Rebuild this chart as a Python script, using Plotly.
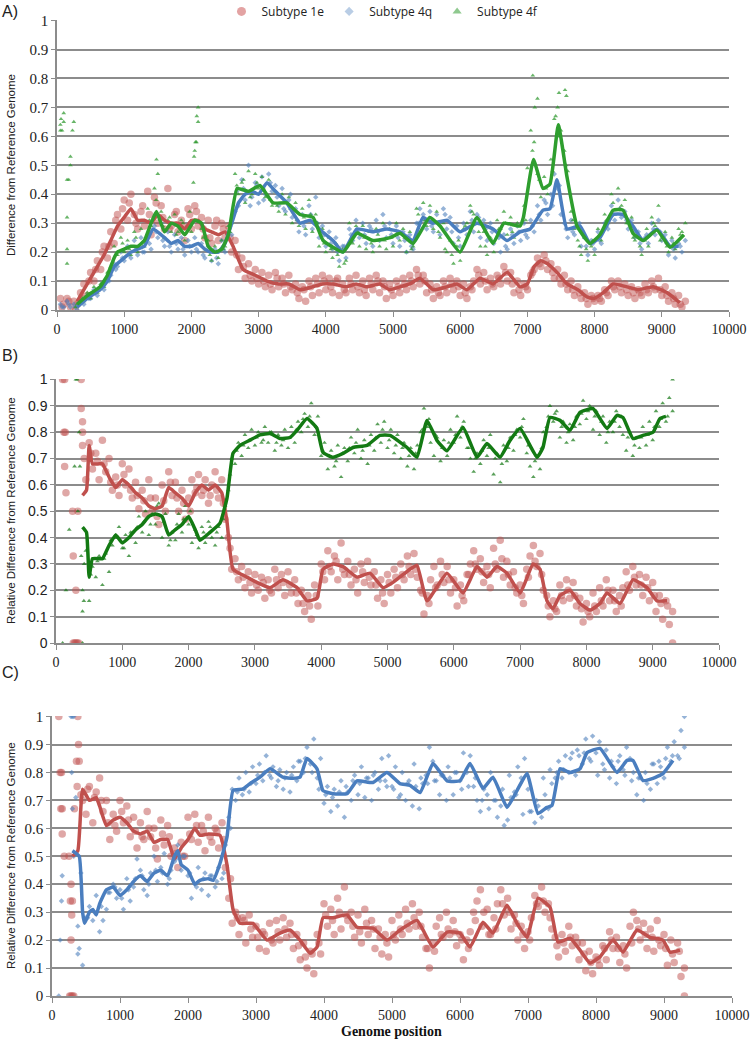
import plotly.graph_objects as go

# ---------------- DATA ----------------
# Panel A scatter positions (genome position)
posA = list(range(50, 9351, 50))
posA2 = list(range(75, 9276, 100))
# Panel B/C scatter positions
posBC = list(range(400, 9301, 50))
posBC2 = list(range(425, 9226, 100))

A_red_pts = [
    0.04, 0.02, 0.04, 0.01, 0.03, 0.02, 0.06, 0.09, 0.05, 0.13,
    0.10, 0.17, 0.14, 0.22, 0.18, 0.27, 0.23, 0.33, 0.28, 0.38,
    0.31, 0.40, 0.33, 0.28, 0.34, 0.29, 0.41, 0.26, 0.39, 0.30,
    0.36, 0.28, 0.42, 0.29, 0.33, 0.27, 0.31, 0.24, 0.35, 0.28,
    0.36, 0.29, 0.32, 0.25, 0.31, 0.23, 0.29, 0.24, 0.30, 0.25,
    0.29, 0.20, 0.24, 0.14, 0.18, 0.11, 0.16, 0.10, 0.14, 0.09,
    0.13, 0.08, 0.12, 0.07, 0.13, 0.08, 0.11, 0.06, 0.12, 0.07,
    0.09, 0.04, 0.08, 0.03, 0.10, 0.05, 0.11, 0.06, 0.12, 0.07,
    0.11, 0.06, 0.10, 0.05, 0.09, 0.06, 0.11, 0.07, 0.12, 0.06,
    0.10, 0.05, 0.11, 0.07, 0.12, 0.06, 0.10, 0.04, 0.09, 0.05,
    0.10, 0.06, 0.11, 0.07, 0.12, 0.08, 0.14, 0.09, 0.12, 0.06,
    0.09, 0.04, 0.08, 0.05, 0.10, 0.06, 0.11, 0.07, 0.10, 0.05,
    0.09, 0.04, 0.08, 0.10, 0.14, 0.09, 0.13, 0.07, 0.11, 0.08,
    0.12, 0.09, 0.15, 0.10, 0.13, 0.06, 0.10, 0.05, 0.09, 0.07,
    0.12, 0.14, 0.18, 0.15, 0.19, 0.14, 0.16, 0.11, 0.14, 0.09,
    0.12, 0.07, 0.10, 0.05, 0.08, 0.04, 0.06, 0.02, 0.05, 0.03,
    0.05, 0.03, 0.07, 0.05, 0.10, 0.07, 0.10, 0.06, 0.09, 0.05,
    0.08, 0.04, 0.07, 0.05, 0.09, 0.06, 0.10, 0.07, 0.11, 0.05,
    0.08, 0.03, 0.06, 0.02, 0.05, 0.01, 0.03,
]
A_red_pts2 = [
    0.01, 0.03, 0.00, 0.04, 0.10, 0.14, 0.20, 0.22, 0.31, 0.35,
    0.37, 0.30, 0.36, 0.33, 0.37, 0.32, 0.28, 0.34, 0.29, 0.33,
    0.34, 0.28, 0.25, 0.31, 0.28, 0.25, 0.19, 0.15, 0.12, 0.11,
    0.10, 0.09, 0.11, 0.09, 0.08, 0.06, 0.07, 0.08, 0.09, 0.10,
    0.08, 0.11, 0.07, 0.09, 0.08, 0.07, 0.09, 0.10, 0.08, 0.07,
    0.08, 0.09, 0.10, 0.12, 0.10, 0.07, 0.06, 0.08, 0.09, 0.08,
    0.06, 0.07, 0.12, 0.10, 0.09, 0.11, 0.13, 0.09, 0.07, 0.08,
    0.13, 0.16, 0.17, 0.13, 0.11, 0.09, 0.07, 0.06, 0.04, 0.04,
    0.04, 0.06, 0.08, 0.08, 0.07, 0.06, 0.06, 0.07, 0.08, 0.07,
    0.05, 0.04, 0.02,
]
A_blue_pts = [
    0.02, 0.01, 0.03, 0.01, 0.02, 0.00, 0.03, 0.02, 0.05, 0.04,
    0.07, 0.05, 0.08, 0.07, 0.11, 0.12, 0.16, 0.15, 0.20, 0.17,
    0.22, 0.18, 0.24, 0.19, 0.25, 0.20, 0.26, 0.21, 0.29, 0.25,
    0.30, 0.22, 0.27, 0.20, 0.26, 0.21, 0.25, 0.19, 0.24, 0.20,
    0.25, 0.20, 0.23, 0.18, 0.22, 0.17, 0.21, 0.16, 0.24, 0.20,
    0.27, 0.26, 0.34, 0.36, 0.45, 0.38, 0.50, 0.39, 0.44, 0.37,
    0.46, 0.40, 0.47, 0.41, 0.43, 0.36, 0.42, 0.34, 0.38, 0.32,
    0.35, 0.27, 0.33, 0.26, 0.36, 0.28, 0.39, 0.25, 0.29, 0.22,
    0.27, 0.21, 0.25, 0.17, 0.22, 0.18, 0.28, 0.24, 0.31, 0.25,
    0.30, 0.23, 0.29, 0.22, 0.31, 0.24, 0.33, 0.25, 0.30, 0.23,
    0.29, 0.22, 0.27, 0.20, 0.26, 0.21, 0.30, 0.35, 0.33, 0.28,
    0.34, 0.27, 0.33, 0.26, 0.35, 0.28, 0.32, 0.23, 0.29, 0.22,
    0.30, 0.26, 0.34, 0.27, 0.33, 0.25, 0.31, 0.24, 0.30, 0.23,
    0.27, 0.20, 0.26, 0.21, 0.28, 0.23, 0.29, 0.24, 0.30, 0.25,
    0.31, 0.27, 0.36, 0.31, 0.38, 0.33, 0.40, 0.47, 0.42, 0.33,
    0.30, 0.25, 0.31, 0.26, 0.29, 0.22, 0.25, 0.19, 0.24, 0.21,
    0.27, 0.23, 0.30, 0.28, 0.36, 0.31, 0.38, 0.32, 0.34, 0.28,
    0.31, 0.25, 0.27, 0.21, 0.25, 0.23, 0.30, 0.26, 0.31, 0.24,
    0.26, 0.19, 0.24, 0.18, 0.23, 0.20, 0.24,
]
A_blue_pts2 = [
    0.01, 0.02, 0.01, 0.03, 0.04, 0.06, 0.09, 0.10, 0.14, 0.18,
    0.19, 0.21, 0.20, 0.23, 0.27, 0.24, 0.22, 0.23, 0.21, 0.22,
    0.21, 0.19, 0.20, 0.18, 0.21, 0.29, 0.41, 0.42, 0.36, 0.43,
    0.38, 0.44, 0.39, 0.35, 0.40, 0.31, 0.29, 0.33, 0.30, 0.26,
    0.23, 0.20, 0.22, 0.26, 0.27, 0.26, 0.28, 0.27, 0.29, 0.26,
    0.25, 0.24, 0.22, 0.30, 0.31, 0.29, 0.30, 0.33, 0.27, 0.25,
    0.28, 0.31, 0.32, 0.28, 0.27, 0.25, 0.22, 0.26, 0.27, 0.26,
    0.29, 0.33, 0.37, 0.36, 0.43, 0.28, 0.27, 0.30, 0.22, 0.23,
    0.24, 0.29, 0.33, 0.35, 0.31, 0.27, 0.23, 0.26, 0.28, 0.27,
    0.23, 0.21, 0.22,
]
A_green_pts = [
    0.64, 0.68, 0.21, 0.50, 0.65, 0.02, 0.05, 0.03, 0.06, 0.04,
    0.08, 0.06, 0.09, 0.08, 0.13, 0.15, 0.22, 0.19, 0.25, 0.20,
    0.24, 0.19, 0.27, 0.20, 0.28, 0.22, 0.35, 0.29, 0.42, 0.47,
    0.34, 0.25, 0.31, 0.27, 0.33, 0.27, 0.31, 0.24, 0.29, 0.27,
    0.55, 0.65, 0.28, 0.21, 0.24, 0.17, 0.22, 0.18, 0.24, 0.22,
    0.29, 0.30, 0.47, 0.40, 0.44, 0.37, 0.48, 0.40, 0.47, 0.42,
    0.46, 0.39, 0.45, 0.36, 0.41, 0.34, 0.40, 0.33, 0.39, 0.30,
    0.37, 0.29, 0.35, 0.28, 0.38, 0.27, 0.33, 0.22, 0.28, 0.20,
    0.25, 0.18, 0.23, 0.15, 0.21, 0.17, 0.30, 0.23, 0.29, 0.22,
    0.29, 0.21, 0.27, 0.20, 0.28, 0.22, 0.30, 0.21, 0.28, 0.22,
    0.30, 0.24, 0.28, 0.20, 0.27, 0.22, 0.35, 0.30, 0.37, 0.29,
    0.36, 0.28, 0.34, 0.25, 0.30, 0.20, 0.24, 0.16, 0.22, 0.17,
    0.28, 0.30, 0.36, 0.33, 0.30, 0.22, 0.27, 0.19, 0.25, 0.20,
    0.31, 0.28, 0.34, 0.26, 0.32, 0.25, 0.30, 0.27, 0.36, 0.49,
    0.62, 0.58, 0.47, 0.39, 0.46, 0.40, 0.52, 0.66, 0.70, 0.62,
    0.55, 0.48, 0.34, 0.28, 0.24, 0.19, 0.25, 0.17, 0.22, 0.19,
    0.28, 0.24, 0.33, 0.30, 0.40, 0.33, 0.42, 0.36, 0.38, 0.30,
    0.32, 0.24, 0.26, 0.19, 0.24, 0.22, 0.32, 0.29, 0.36, 0.25,
    0.27, 0.20, 0.25, 0.21, 0.28, 0.27, 0.30,
]
A_green_pts2 = [
    0.62, 0.45, 0.01, 0.04, 0.05, 0.07, 0.09, 0.12, 0.19, 0.23,
    0.21, 0.25, 0.22, 0.31, 0.38, 0.29, 0.32, 0.26, 0.30, 0.34,
    0.58, 0.25, 0.19, 0.20, 0.21, 0.27, 0.43, 0.45, 0.39, 0.44,
    0.42, 0.38, 0.36, 0.37, 0.35, 0.31, 0.32, 0.33, 0.30, 0.23,
    0.21, 0.19, 0.16, 0.24, 0.27, 0.25, 0.23, 0.26, 0.24, 0.25,
    0.27, 0.25, 0.21, 0.33, 0.31, 0.31, 0.27, 0.21, 0.19, 0.24,
    0.29, 0.34, 0.27, 0.22, 0.24, 0.28, 0.30, 0.27, 0.29, 0.31,
    0.55, 0.45, 0.42, 0.48, 0.60, 0.50, 0.31, 0.22, 0.21, 0.24,
    0.26, 0.31, 0.37, 0.35, 0.30, 0.25, 0.22, 0.28, 0.30, 0.24,
    0.22, 0.23, 0.26,
]
A_green_extra_x = [50, 60, 100, 150, 150, 150, 200, 230, 2030, 2040, 2060, 2080, 2100, 1480, 7080, 7110, 7150, 7420, 7470, 7560, 7580]
A_green_extra_y = [0.62, 0.66, 0.65, 0.45, 0.32, 0.16, 0.53, 0.62, 0.44, 0.53, 0.58, 0.67, 0.70, 0.52, 0.81, 0.70, 0.73, 0.67, 0.75, 0.76, 0.74]

# Panel A smoothed lines
A_red_x = [300, 400, 500, 600, 700, 800, 900, 1000, 1100, 1200, 1300, 1400, 1500, 1600, 1700, 1800, 1900, 2000, 2100, 2200, 2300, 2400, 2500, 2620, 2770, 2950, 3125, 3300, 3450, 3616, 3800, 3950, 4107, 4300, 4450, 4613, 4800, 4950, 5104, 5250, 5400, 5600, 5800, 5950, 6100, 6295, 6490, 6700, 6890, 7000, 7100, 7200, 7300, 7440, 7589, 7750, 7887, 7990, 8130, 8275, 8482, 8650, 8870, 9077, 9270]
A_red_y = [0.03, 0.07, 0.11, 0.15, 0.19, 0.24, 0.29, 0.32, 0.35, 0.31, 0.31, 0.30, 0.33, 0.31, 0.30, 0.30, 0.28, 0.31, 0.31, 0.28, 0.27, 0.26, 0.27, 0.22, 0.14, 0.12, 0.10, 0.09, 0.09, 0.07, 0.08, 0.09, 0.09, 0.08, 0.09, 0.08, 0.09, 0.07, 0.08, 0.09, 0.11, 0.07, 0.08, 0.09, 0.07, 0.11, 0.09, 0.13, 0.08, 0.09, 0.15, 0.17, 0.16, 0.13, 0.09, 0.07, 0.045, 0.04, 0.06, 0.09, 0.08, 0.07, 0.08, 0.06, 0.025]
A_blue_x = [300, 450, 640, 750, 850, 1000, 1100, 1200, 1300, 1430, 1600, 1700, 1800, 1900, 2000, 2100, 2200, 2300, 2400, 2500, 2600, 2700, 2800, 2900, 3000, 3125, 3250, 3420, 3616, 3765, 3950, 4107, 4256, 4464, 4702, 4910, 5104, 5297, 5446, 5595, 5804, 5997, 6250, 6488, 6696, 6890, 7040, 7232, 7336, 7440, 7589, 7783, 7932, 8080, 8275, 8423, 8571, 8720, 8928, 9122, 9250]
A_blue_y = [0.01, 0.04, 0.07, 0.10, 0.15, 0.18, 0.20, 0.21, 0.22, 0.28, 0.25, 0.23, 0.24, 0.22, 0.22, 0.23, 0.21, 0.20, 0.20, 0.23, 0.30, 0.37, 0.40, 0.41, 0.40, 0.44, 0.41, 0.37, 0.30, 0.31, 0.27, 0.24, 0.20, 0.28, 0.27, 0.28, 0.27, 0.24, 0.32, 0.30, 0.31, 0.27, 0.30, 0.28, 0.24, 0.27, 0.28, 0.345, 0.35, 0.45, 0.28, 0.29, 0.23, 0.25, 0.33, 0.33, 0.29, 0.24, 0.28, 0.22, 0.22]
A_green_x = [300, 450, 640, 750, 850, 900, 1000, 1100, 1200, 1300, 1400, 1480, 1600, 1700, 1800, 1900, 2050, 2150, 2250, 2350, 2450, 2550, 2680, 2850, 3020, 3215, 3420, 3616, 3810, 3960, 4256, 4464, 4702, 4960, 5104, 5297, 5545, 5700, 5997, 6250, 6488, 6650, 6890, 6940, 7090, 7232, 7336, 7460, 7589, 7738, 7932, 8080, 8275, 8423, 8571, 8720, 8928, 9122, 9330]
A_green_y = [0.02, 0.05, 0.08, 0.12, 0.18, 0.20, 0.21, 0.22, 0.22, 0.24, 0.30, 0.34, 0.27, 0.30, 0.29, 0.26, 0.31, 0.30, 0.22, 0.20, 0.21, 0.26, 0.42, 0.41, 0.43, 0.37, 0.37, 0.33, 0.32, 0.24, 0.20, 0.265, 0.24, 0.25, 0.265, 0.23, 0.32, 0.29, 0.20, 0.32, 0.23, 0.30, 0.29, 0.32, 0.52, 0.42, 0.435, 0.64, 0.46, 0.29, 0.23, 0.26, 0.345, 0.345, 0.265, 0.24, 0.276, 0.217, 0.26]

# Panel B scatter
B_red_pts = [
    0.80, 0.62, 0.76, 0.66, 0.72, 0.62, 0.77, 0.65, 0.70, 0.58,
    0.63, 0.56, 0.68, 0.60, 0.66, 0.55, 0.61, 0.51, 0.58, 0.49,
    0.62, 0.50, 0.55, 0.45, 0.60, 0.50, 0.65, 0.56, 0.61, 0.50,
    0.58, 0.47, 0.55, 0.62, 0.57, 0.64, 0.56, 0.62, 0.53, 0.60,
    0.65, 0.55, 0.62, 0.47, 0.40, 0.28, 0.32, 0.24, 0.29, 0.21,
    0.27, 0.19, 0.26, 0.20, 0.25, 0.17, 0.24, 0.19, 0.28, 0.21,
    0.26, 0.18, 0.27, 0.19, 0.24, 0.15, 0.20, 0.12, 0.18, 0.09,
    0.22, 0.14, 0.30, 0.24, 0.35, 0.27, 0.33, 0.24, 0.38, 0.26,
    0.31, 0.22, 0.28, 0.19, 0.30, 0.23, 0.31, 0.22, 0.27, 0.17,
    0.24, 0.15, 0.26, 0.19, 0.28, 0.21, 0.30, 0.24, 0.33, 0.26,
    0.34, 0.25, 0.20, 0.11, 0.18, 0.24, 0.29, 0.22, 0.31, 0.23,
    0.29, 0.19, 0.24, 0.14, 0.22, 0.16, 0.26, 0.30, 0.35, 0.28,
    0.32, 0.23, 0.29, 0.21, 0.36, 0.28, 0.39, 0.25, 0.31, 0.22,
    0.27, 0.19, 0.22, 0.15, 0.28, 0.33, 0.37, 0.29, 0.34, 0.20,
    0.18, 0.10, 0.16, 0.12, 0.22, 0.16, 0.24, 0.17, 0.23, 0.14,
    0.17, 0.08, 0.15, 0.10, 0.19, 0.12, 0.21, 0.14, 0.24, 0.16,
    0.20, 0.12, 0.18, 0.21, 0.27, 0.20, 0.29, 0.22, 0.26, 0.18,
    0.25, 0.16, 0.23, 0.12, 0.18, 0.09, 0.16, 0.07, 0.12,
]
B_red_pts2 = [
    0.70, 0.72, 0.69, 0.68, 0.61, 0.60, 0.64, 0.58, 0.56, 0.54,
    0.55, 0.48, 0.54, 0.61, 0.55, 0.53, 0.50, 0.59, 0.58, 0.56,
    0.58, 0.53, 0.36, 0.27, 0.25, 0.23, 0.22, 0.23, 0.20, 0.24,
    0.23, 0.22, 0.19, 0.15, 0.14, 0.18, 0.27, 0.29, 0.31, 0.28,
    0.26, 0.24, 0.27, 0.25, 0.22, 0.19, 0.23, 0.25, 0.26, 0.29,
    0.28, 0.19, 0.15, 0.21, 0.26, 0.24, 0.21, 0.18, 0.26, 0.30,
    0.27, 0.26, 0.30, 0.32, 0.26, 0.21, 0.18, 0.25, 0.31, 0.26,
    0.14, 0.13, 0.18, 0.20, 0.18, 0.13, 0.12, 0.14, 0.16, 0.20,
    0.16, 0.14, 0.22, 0.25, 0.22, 0.21, 0.18, 0.15, 0.14,
]
B_green_pts = [
    0.20, 0.35, 0.16, 0.29, 0.25, 0.33, 0.22, 0.34, 0.27, 0.37,
    0.41, 0.44, 0.36, 0.41, 0.33, 0.42, 0.38, 0.48, 0.42, 0.50,
    0.41, 0.49, 0.45, 0.53, 0.40, 0.49, 0.37, 0.42, 0.39, 0.49,
    0.42, 0.52, 0.45, 0.38, 0.43, 0.36, 0.44, 0.38, 0.46, 0.40,
    0.37, 0.44, 0.40, 0.52, 0.58, 0.70, 0.68, 0.76, 0.71, 0.79,
    0.74, 0.81, 0.75, 0.80, 0.76, 0.82, 0.76, 0.80, 0.73, 0.79,
    0.75, 0.81, 0.74, 0.82, 0.76, 0.84, 0.80, 0.87, 0.82, 0.91,
    0.79, 0.86, 0.71, 0.76, 0.66, 0.73, 0.67, 0.75, 0.63, 0.74,
    0.69, 0.78, 0.72, 0.81, 0.70, 0.77, 0.68, 0.79, 0.73, 0.83,
    0.76, 0.84, 0.74, 0.81, 0.72, 0.79, 0.70, 0.76, 0.67, 0.74,
    0.66, 0.75, 0.80, 0.89, 0.82, 0.76, 0.71, 0.78, 0.69, 0.77,
    0.71, 0.81, 0.76, 0.86, 0.78, 0.84, 0.74, 0.70, 0.65, 0.72,
    0.68, 0.77, 0.71, 0.79, 0.64, 0.72, 0.61, 0.75, 0.69, 0.78,
    0.73, 0.81, 0.78, 0.85, 0.72, 0.67, 0.63, 0.71, 0.66, 0.80,
    0.82, 0.90, 0.84, 0.88, 0.78, 0.84, 0.76, 0.83, 0.77, 0.86,
    0.83, 0.92, 0.85, 0.90, 0.81, 0.88, 0.79, 0.86, 0.76, 0.84,
    0.80, 0.88, 0.82, 0.79, 0.73, 0.80, 0.71, 0.78, 0.74, 0.82,
    0.75, 0.84, 0.77, 0.88, 0.82, 0.91, 0.84, 0.93, 0.88,
]
B_green_pts2 = [
    0.30, 0.26, 0.31, 0.32, 0.39, 0.40, 0.36, 0.42, 0.44, 0.46,
    0.45, 0.52, 0.46, 0.39, 0.45, 0.47, 0.50, 0.41, 0.42, 0.44,
    0.42, 0.47, 0.64, 0.73, 0.75, 0.77, 0.78, 0.77, 0.80, 0.76,
    0.77, 0.78, 0.81, 0.85, 0.86, 0.82, 0.73, 0.71, 0.69, 0.72,
    0.74, 0.76, 0.73, 0.75, 0.78, 0.81, 0.77, 0.75, 0.74, 0.71,
    0.72, 0.81, 0.85, 0.79, 0.74, 0.76, 0.79, 0.82, 0.74, 0.70,
    0.73, 0.74, 0.70, 0.68, 0.74, 0.79, 0.82, 0.75, 0.69, 0.74,
    0.86, 0.87, 0.82, 0.80, 0.82, 0.87, 0.88, 0.86, 0.84, 0.80,
    0.84, 0.86, 0.78, 0.75, 0.78, 0.79, 0.82, 0.85, 0.86,
]
B_red_extra_x = [100, 130, 120, 140, 130, 150, 250, 260, 300, 260, 280, 300, 320, 340, 330, 380, 380, 400, 400, 9300]
B_red_extra_y = [1.0, 1.0, 0.8, 0.8, 0.67, 0.57, 0.5, 0.33, 0.2, 0.0, 0.0, 0.0, 0.0, 0.0, 0.5, 1.0, 0.89, 0.84, 0.75, 0.0]
B_green_extra_x = [100, 150, 200, 280, 300, 320, 330, 360, 350, 380, 400, 420, 400, 9300]
B_green_extra_y = [0.0, 0.2, 0.43, 0.67, 1.0, 1.0, 0.5, 0.67, 0.8, 0.33, 0.12, 0.16, 0.0, 1.0]

B_red_x = [400, 460, 500, 550, 650, 700, 800, 900, 1000, 1100, 1200, 1300, 1400, 1500, 1600, 1700, 1800, 1900, 2000, 2100, 2200, 2300, 2400, 2500, 2579, 2670, 2880, 3030, 3228, 3424, 3635, 3786, 3937, 4027, 4178, 4329, 4540, 4736, 4932, 5083, 5339, 5445, 5596, 5897, 6139, 6350, 6500, 6651, 6802, 7000, 7195, 7300, 7405, 7496, 7602, 7753, 7903, 8054, 8205, 8310, 8507, 8703, 8914, 9065, 9216]
B_red_y = [0.56, 0.58, 0.75, 0.68, 0.68, 0.68, 0.63, 0.59, 0.62, 0.60, 0.57, 0.55, 0.52, 0.51, 0.52, 0.59, 0.57, 0.55, 0.52, 0.57, 0.60, 0.58, 0.60, 0.57, 0.46, 0.28, 0.25, 0.23, 0.21, 0.24, 0.21, 0.16, 0.17, 0.28, 0.30, 0.29, 0.25, 0.265, 0.21, 0.23, 0.28, 0.295, 0.16, 0.265, 0.19, 0.29, 0.25, 0.29, 0.265, 0.19, 0.30, 0.28, 0.16, 0.13, 0.18, 0.20, 0.15, 0.125, 0.15, 0.19, 0.15, 0.24, 0.21, 0.16, 0.16]
B_green_x = [400, 460, 500, 550, 650, 700, 800, 900, 1000, 1100, 1200, 1300, 1400, 1500, 1600, 1700, 1800, 1900, 2000, 2100, 2172, 2323, 2474, 2579, 2670, 2775, 2926, 3077, 3228, 3379, 3530, 3635, 3786, 3937, 4027, 4178, 4329, 4480, 4690, 4887, 5038, 5294, 5445, 5596, 5746, 5897, 6139, 6350, 6500, 6697, 6848, 7000, 7255, 7345, 7450, 7602, 7753, 7903, 8099, 8310, 8461, 8552, 8703, 8854, 9005, 9110, 9200]
B_green_y = [0.44, 0.42, 0.25, 0.32, 0.32, 0.32, 0.37, 0.41, 0.38, 0.40, 0.43, 0.45, 0.48, 0.49, 0.48, 0.41, 0.43, 0.45, 0.48, 0.43, 0.39, 0.42, 0.455, 0.55, 0.72, 0.75, 0.77, 0.79, 0.795, 0.776, 0.78, 0.807, 0.852, 0.814, 0.723, 0.705, 0.72, 0.742, 0.75, 0.788, 0.788, 0.742, 0.705, 0.845, 0.769, 0.73, 0.818, 0.705, 0.757, 0.705, 0.769, 0.814, 0.705, 0.742, 0.856, 0.845, 0.807, 0.875, 0.89, 0.814, 0.864, 0.856, 0.776, 0.788, 0.80, 0.852, 0.86]

# Panel C scatter
C_red_pts = [
    0.84, 0.70, 0.65, 0.75, 0.62, 0.73, 0.78, 0.66, 0.70, 0.56,
    0.65, 0.59, 0.70, 0.62, 0.68, 0.57, 0.64, 0.53, 0.62, 0.56,
    0.66, 0.57, 0.60, 0.49, 0.63, 0.54, 0.61, 0.50, 0.53, 0.46,
    0.55, 0.50, 0.64, 0.56, 0.65, 0.55, 0.61, 0.52, 0.64, 0.55,
    0.60, 0.53, 0.62, 0.46, 0.35, 0.26, 0.30, 0.22, 0.28, 0.19,
    0.29, 0.21, 0.25, 0.17, 0.23, 0.16, 0.26, 0.19, 0.27, 0.20,
    0.28, 0.21, 0.26, 0.17, 0.22, 0.13, 0.19, 0.10, 0.16, 0.08,
    0.22, 0.15, 0.33, 0.25, 0.31, 0.22, 0.35, 0.24, 0.39, 0.27,
    0.30, 0.21, 0.29, 0.19, 0.31, 0.22, 0.27, 0.17, 0.24, 0.15,
    0.22, 0.14, 0.27, 0.20, 0.29, 0.22, 0.31, 0.24, 0.33, 0.25,
    0.30, 0.21, 0.17, 0.10, 0.19, 0.25, 0.28, 0.21, 0.30, 0.22,
    0.27, 0.18, 0.22, 0.13, 0.20, 0.23, 0.30, 0.34, 0.38, 0.30,
    0.31, 0.22, 0.28, 0.33, 0.38, 0.29, 0.35, 0.24, 0.29, 0.20,
    0.25, 0.17, 0.23, 0.28, 0.36, 0.32, 0.39, 0.30, 0.33, 0.24,
    0.21, 0.14, 0.22, 0.16, 0.25, 0.18, 0.21, 0.13, 0.19, 0.09,
    0.16, 0.08, 0.14, 0.11, 0.18, 0.13, 0.23, 0.17, 0.21, 0.12,
    0.18, 0.10, 0.25, 0.30, 0.27, 0.20, 0.26, 0.17, 0.24, 0.16,
    0.27, 0.18, 0.22, 0.11, 0.20, 0.12, 0.19, 0.07, 0.10,
]
C_red_pts2 = [
    0.72, 0.74, 0.71, 0.70, 0.62, 0.61, 0.66, 0.63, 0.59, 0.57,
    0.60, 0.53, 0.58, 0.57, 0.51, 0.50, 0.58, 0.61, 0.59, 0.57,
    0.59, 0.56, 0.42, 0.28, 0.27, 0.24, 0.21, 0.22, 0.20, 0.23,
    0.24, 0.22, 0.18, 0.14, 0.15, 0.19, 0.29, 0.27, 0.30, 0.29,
    0.25, 0.23, 0.26, 0.24, 0.21, 0.19, 0.22, 0.24, 0.26, 0.28,
    0.25, 0.17, 0.16, 0.22, 0.24, 0.23, 0.20, 0.17, 0.27, 0.25,
    0.22, 0.24, 0.33, 0.30, 0.26, 0.22, 0.20, 0.33, 0.34, 0.28,
    0.18, 0.19, 0.21, 0.19, 0.15, 0.12, 0.13, 0.17, 0.20, 0.17,
    0.15, 0.19, 0.24, 0.22, 0.21, 0.20, 0.17, 0.15, 0.16,
]
C_blue_pts = [
    0.17, 0.11, 0.28, 0.32, 0.27, 0.36, 0.23, 0.27, 0.31, 0.37,
    0.40, 0.35, 0.38, 0.31, 0.42, 0.34, 0.39, 0.49, 0.45, 0.38,
    0.36, 0.44, 0.50, 0.41, 0.46, 0.51, 0.40, 0.45, 0.48, 0.54,
    0.45, 0.50, 0.43, 0.35, 0.40, 0.46, 0.38, 0.44, 0.36, 0.43,
    0.39, 0.46, 0.42, 0.54, 0.64, 0.74, 0.70, 0.78, 0.72, 0.80,
    0.73, 0.82, 0.76, 0.83, 0.77, 0.86, 0.79, 0.82, 0.75, 0.81,
    0.74, 0.80, 0.73, 0.82, 0.77, 0.84, 0.80, 0.89, 0.83, 0.92,
    0.78, 0.85, 0.69, 0.75, 0.66, 0.74, 0.68, 0.77, 0.64, 0.73,
    0.70, 0.79, 0.72, 0.82, 0.71, 0.78, 0.70, 0.80, 0.74, 0.85,
    0.77, 0.86, 0.75, 0.82, 0.71, 0.80, 0.70, 0.77, 0.68, 0.75,
    0.67, 0.76, 0.79, 0.89, 0.84, 0.77, 0.72, 0.79, 0.70, 0.78,
    0.72, 0.80, 0.77, 0.87, 0.80, 0.86, 0.75, 0.70, 0.66, 0.74,
    0.72, 0.80, 0.70, 0.64, 0.68, 0.61, 0.63, 0.71, 0.73, 0.82,
    0.78, 0.85, 0.74, 0.66, 0.62, 0.68, 0.64, 0.72, 0.67, 0.76,
    0.78, 0.84, 0.78, 0.86, 0.80, 0.87, 0.79, 0.86, 0.83, 0.92,
    0.85, 0.93, 0.87, 0.91, 0.83, 0.88, 0.78, 0.82, 0.76, 0.86,
    0.81, 0.89, 0.85, 0.80, 0.72, 0.78, 0.70, 0.76, 0.74, 0.83,
    0.76, 0.82, 0.78, 0.89, 0.84, 0.91, 0.86, 0.95, 0.89,
]
C_blue_pts2 = [
    0.44, 0.28, 0.30, 0.32, 0.37, 0.39, 0.35, 0.38, 0.42, 0.43,
    0.40, 0.45, 0.44, 0.42, 0.49, 0.50, 0.44, 0.39, 0.42, 0.43,
    0.41, 0.44, 0.60, 0.73, 0.74, 0.76, 0.79, 0.80, 0.78, 0.77,
    0.78, 0.79, 0.84, 0.85, 0.80, 0.74, 0.72, 0.71, 0.73, 0.75,
    0.77, 0.76, 0.78, 0.79, 0.77, 0.75, 0.74, 0.72, 0.76, 0.83,
    0.78, 0.76, 0.77, 0.79, 0.82, 0.80, 0.74, 0.75, 0.78, 0.70,
    0.67, 0.70, 0.74, 0.79, 0.72, 0.65, 0.66, 0.70, 0.78, 0.81,
    0.80, 0.81, 0.85, 0.88, 0.87, 0.84, 0.79, 0.81, 0.84, 0.84,
    0.79, 0.77, 0.78, 0.80, 0.83, 0.84, 0.85, 0.86, 0.85,
]
C_red_extra_x = [100, 120, 140, 130, 150, 150, 180, 250, 280, 270, 300, 290, 280, 260, 280, 300, 320, 330, 360, 370, 380, 390, 9300]
C_red_extra_y = [1.0, 0.8, 0.8, 0.67, 0.67, 0.58, 0.5, 0.5, 0.4, 0.34, 0.34, 0.29, 0.2, 0.0, 0.0, 0.0, 0.0, 0.67, 0.84, 0.75, 1.0, 0.9, 0.0]
C_blue_extra_x = [100, 120, 140, 150, 280, 300, 320, 290, 300, 320, 350, 380, 380, 9300]
C_blue_extra_y = [0.0, 0.2, 0.34, 0.43, 1.0, 1.0, 1.0, 0.8, 0.67, 0.5, 0.71, 0.25, 0.15, 1.0]

C_red_x = [300, 380, 450, 550, 650, 700, 800, 900, 1000, 1100, 1200, 1300, 1400, 1500, 1600, 1700, 1800, 1900, 2000, 2100, 2176, 2300, 2470, 2573, 2662, 2765, 2956, 3162, 3353, 3500, 3647, 3794, 3897, 3985, 4132, 4338, 4485, 4720, 4926, 5118, 5368, 5603, 5809, 6000, 6147, 6338, 6485, 6691, 6838, 6985, 7147, 7324, 7441, 7618, 7765, 7912, 8059, 8250, 8397, 8603, 8794, 8985, 9088, 9235]
C_red_y = [0.50, 0.52, 0.74, 0.70, 0.71, 0.68, 0.61, 0.63, 0.64, 0.62, 0.59, 0.58, 0.59, 0.55, 0.56, 0.56, 0.49, 0.53, 0.56, 0.60, 0.575, 0.58, 0.575, 0.47, 0.31, 0.26, 0.26, 0.20, 0.225, 0.236, 0.20, 0.154, 0.175, 0.28, 0.28, 0.29, 0.246, 0.243, 0.20, 0.236, 0.27, 0.175, 0.229, 0.225, 0.175, 0.264, 0.225, 0.325, 0.26, 0.21, 0.35, 0.318, 0.193, 0.207, 0.164, 0.118, 0.14, 0.20, 0.157, 0.236, 0.21, 0.20, 0.157, 0.164]
C_blue_x = [300, 400, 450, 480, 550, 600, 650, 700, 800, 900, 1000, 1100, 1200, 1300, 1400, 1500, 1600, 1700, 1800, 1850, 1900, 2000, 2100, 2176, 2300, 2370, 2470, 2573, 2662, 2800, 2912, 3059, 3206, 3397, 3544, 3647, 3750, 3897, 3985, 4132, 4338, 4485, 4720, 4926, 5118, 5265, 5412, 5603, 5809, 6000, 6147, 6338, 6485, 6691, 6838, 6985, 7147, 7279, 7353, 7471, 7618, 7765, 7868, 8059, 8309, 8456, 8544, 8691, 8838, 8985, 9132]
C_blue_y = [0.52, 0.50, 0.30, 0.26, 0.30, 0.31, 0.29, 0.33, 0.38, 0.39, 0.36, 0.38, 0.41, 0.43, 0.41, 0.44, 0.45, 0.43, 0.50, 0.52, 0.47, 0.45, 0.40, 0.414, 0.42, 0.414, 0.474, 0.568, 0.735, 0.74, 0.76, 0.783, 0.813, 0.783, 0.779, 0.783, 0.85, 0.813, 0.735, 0.724, 0.724, 0.77, 0.764, 0.80, 0.76, 0.754, 0.728, 0.832, 0.77, 0.77, 0.832, 0.743, 0.783, 0.675, 0.735, 0.796, 0.653, 0.675, 0.682, 0.813, 0.80, 0.813, 0.871, 0.886, 0.80, 0.843, 0.843, 0.771, 0.779, 0.796, 0.843]

legend_names = ["Subtype 1e", "Subtype 4q", "Subtype 4f"]
x_ticks = [0, 1000, 2000, 3000, 4000, 5000, 6000, 7000, 8000, 9000, 10000]

# ---------------- STYLE ----------------
RED = "#C0504D"
RED_PT = "rgba(192,80,77,0.5)"
BLUE = "#4A7EBF"
BLUE_PT = "rgba(79,129,189,0.6)"
GREEN_A = "#2E9E2E"
GREEN_B = "#137A13"
GREEN_PT_A = "rgba(40,150,40,0.7)"
GREEN_PT_B = "rgba(20,120,20,0.7)"
GRID = "#8C8C8C"
SERIF = "Liberation Serif"
SANS = "Liberation Sans"

W, H = 750, 1041

def px_x(p):
    return p / W

def px_y(p):
    return 1 - p / H

fig = go.Figure()

def pts(x, y, ax, color, symbol, size):
    fig.add_trace(go.Scatter(x=x, y=y, mode="markers", xaxis="x" + ax, yaxis="y" + ax,
                             marker=dict(color=color, symbol=symbol, size=size, line=dict(width=0)),
                             showlegend=False, hoverinfo="skip"))

def line(x, y, ax, color, w=3.5):
    fig.add_trace(go.Scatter(x=x, y=y, mode="lines", xaxis="x" + ax, yaxis="y" + ax,
                             line=dict(color=color, width=w, shape="spline", smoothing=0.4),
                             showlegend=False, hoverinfo="skip"))

RS, SS = 7.5, 4.2

# Panel A
pts(posA, A_red_pts, "", RED_PT, "circle", RS)
pts(posA2, A_red_pts2, "", RED_PT, "circle", RS)
pts(posA, A_blue_pts, "", BLUE_PT, "diamond", SS)
pts(posA2, A_blue_pts2, "", BLUE_PT, "diamond", SS)
pts(posA, A_green_pts, "", GREEN_PT_A, "triangle-up", SS)
pts(posA2, A_green_pts2, "", GREEN_PT_A, "triangle-up", SS)
pts(A_green_extra_x, A_green_extra_y, "", GREEN_PT_A, "triangle-up", SS)
line(A_red_x, A_red_y, "", RED)
line(A_blue_x, A_blue_y, "", BLUE)
line(A_green_x, A_green_y, "", GREEN_A)

# Panel B
pts(posBC, B_red_pts, "2", RED_PT, "circle", RS)
pts(posBC2, B_red_pts2, "2", RED_PT, "circle", RS)
pts(B_red_extra_x, B_red_extra_y, "2", RED_PT, "circle", RS)
pts(posBC, B_green_pts, "2", GREEN_PT_B, "triangle-up", SS)
pts(posBC2, B_green_pts2, "2", GREEN_PT_B, "triangle-up", SS)
pts(B_green_extra_x, B_green_extra_y, "2", GREEN_PT_B, "triangle-up", SS)
line(B_red_x, B_red_y, "2", RED)
line(B_green_x, B_green_y, "2", GREEN_B)

# Panel C
pts(posBC, C_red_pts, "3", RED_PT, "circle", RS)
pts(posBC2, C_red_pts2, "3", RED_PT, "circle", RS)
pts(C_red_extra_x, C_red_extra_y, "3", RED_PT, "circle", RS)
pts(posBC, C_blue_pts, "3", BLUE_PT, "diamond", SS)
pts(posBC2, C_blue_pts2, "3", BLUE_PT, "diamond", SS)
pts(C_blue_extra_x, C_blue_extra_y, "3", BLUE_PT, "diamond", SS)
line(C_red_x, C_red_y, "3", RED)
line(C_blue_x, C_blue_y, "3", BLUE)

# Legend-only traces
leg_styles = [("#E3A3A3", "circle", 9), ("#B9CDE5", "diamond", 7), ("#8FC98F", "triangle-up", 8)]
for name, (c, s, sz) in zip(legend_names, leg_styles):
    fig.add_trace(go.Scatter(x=[None], y=[None], mode="markers", name=name,
                             marker=dict(color=c, symbol=s, size=sz), showlegend=True))

def xaxis(domain, anchor):
    return dict(domain=domain, anchor=anchor, range=[0, 10000], tickvals=x_ticks,
                ticktext=[str(v) for v in x_ticks], showgrid=False, zeroline=False,
                showline=True, linecolor=GRID, linewidth=1.5, ticks="outside", ticklen=5,
                tickcolor=GRID, automargin=False)

def yaxis(domain, anchor):
    return dict(domain=domain, anchor=anchor, range=[0, 1.002], dtick=0.1, tick0=0,
                showgrid=True, gridcolor=GRID, gridwidth=1.5, zeroline=False,
                showline=True, linecolor=GRID, linewidth=1.5, ticks="outside", ticklen=4,
                tickcolor=GRID, automargin=False)

fig.update_layout(
    width=W, height=H, margin=dict(l=0, r=0, t=0, b=0, pad=0, autoexpand=False),
    paper_bgcolor="white", plot_bgcolor="white",
    font=dict(family=SERIF, size=14, color="#222"),
    xaxis=xaxis([px_x(57), px_x(729)], "y"),
    yaxis=yaxis([px_y(310), px_y(20)], "x"),
    xaxis2=xaxis([px_x(56), px_x(719)], "y2"),
    yaxis2=yaxis([px_y(643), px_y(379)], "x2"),
    xaxis3=xaxis([px_x(52), px_x(732)], "y3"),
    yaxis3=yaxis([px_y(996), px_y(716)], "x3"),
    legend=dict(orientation="h", x=0.51, xanchor="center", y=1.003, yanchor="top",
                font=dict(family="Open Sans", size=12, color="#222"),
                itemwidth=30, tracegroupgap=0, bgcolor="rgba(0,0,0,0)"),
    showlegend=True,
)
# tick label fonts: serif for x axes and y axes of A and C, sans for y axis of B
fig.update_xaxes(tickfont_family=SERIF, tickfont_size=14, tickfont_color="#222")
fig.update_yaxes(tickfont_family=SERIF, tickfont_size=15, tickfont_color="#222")
fig.update_layout(yaxis2_tickfont_family=SANS, yaxis2_tickfont_size=14)

ann = []
# Y axis titles
for yc, txt in [((20 + 310) / 2, "Difference from Reference Genome"),
                ((379 + 643) / 2, "Relative Difference from Reference Genome"),
                ((716 + 996) / 2, "Relative Difference from Reference Genome")]:
    ann.append(dict(x=px_x(11), y=px_y(yc), xref="paper", yref="paper", text=txt, textangle=-90,
                    showarrow=False, font=dict(family=SANS, size=11.5, color="#222"),
                    xanchor="center", yanchor="middle"))
# Panel labels
for yc, txt in [(12, "A)"), (355, "B)"), (672, "C)")]:
    ann.append(dict(x=0, y=px_y(yc), xref="paper", yref="paper", text=txt, showarrow=False,
                    font=dict(family=SANS, size=16, color="#222"), xanchor="left", yanchor="middle"))
ann.append(dict(x=px_x(392), y=px_y(1031), xref="paper", yref="paper", text="<b>Genome position</b>",
                showarrow=False, font=dict(family=SERIF, size=14, color="#111"),
                xanchor="center", yanchor="middle"))
fig.update_layout(annotations=ann)

fig.write_html("out.html", config={"displayModeBar": False},
               post_script="document.body.style.margin='0px';document.body.style.padding='0px';"
                           "document.body.style.overflow='hidden';")
